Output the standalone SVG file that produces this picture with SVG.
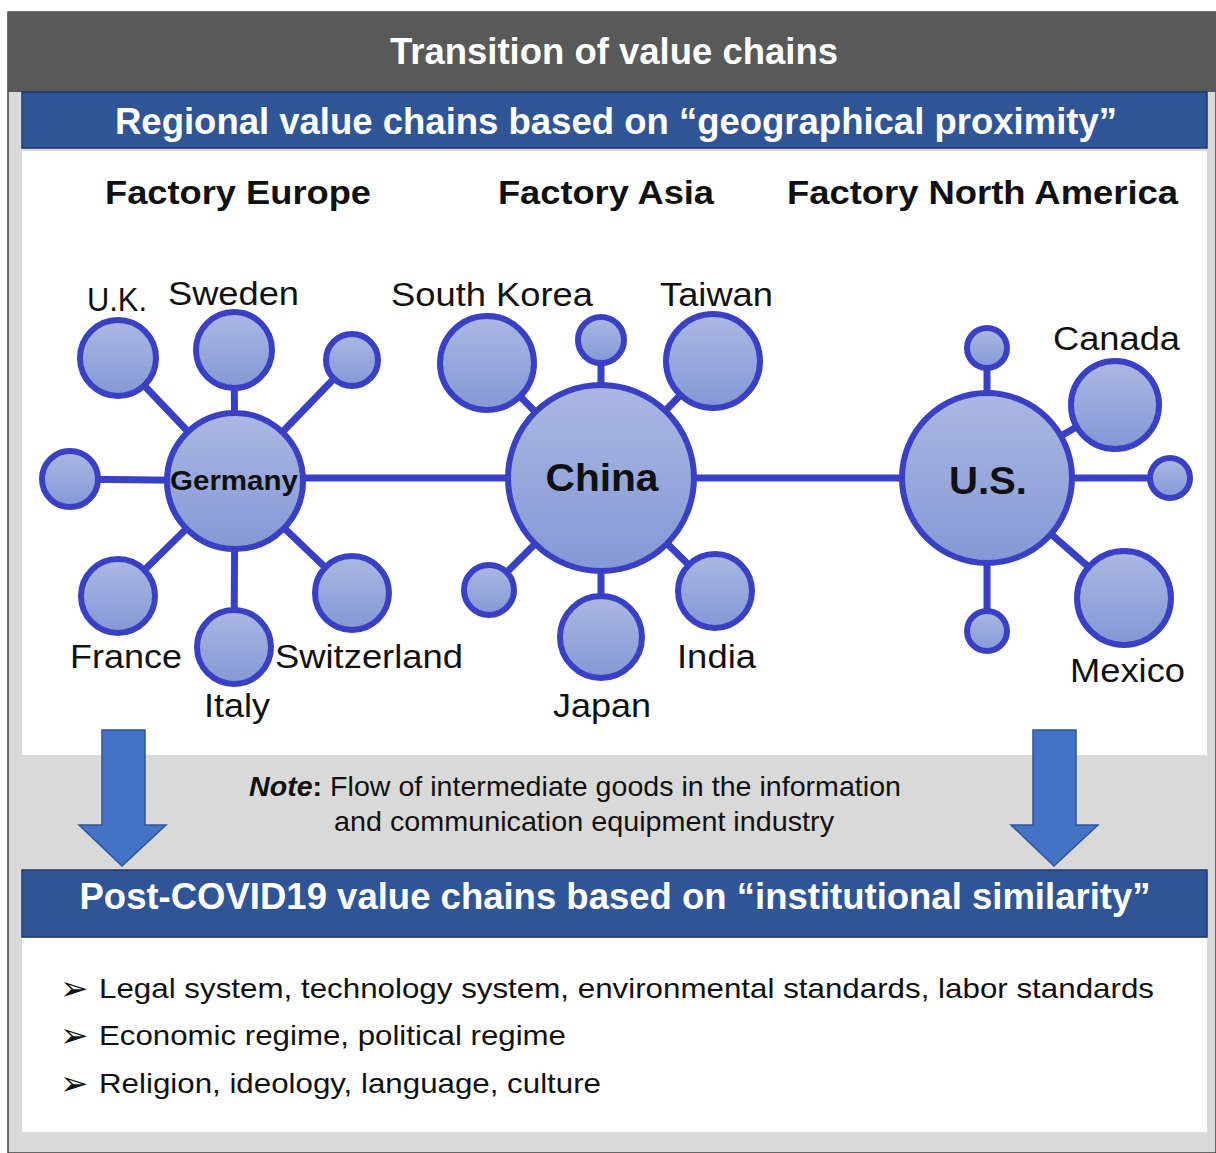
<svg xmlns="http://www.w3.org/2000/svg" width="1216" height="1153" viewBox="0 0 1216 1153">
<defs>
<linearGradient id="nodeFill" x1="0" y1="0" x2="0" y2="1">
<stop offset="0" stop-color="#aab8e2"/>
<stop offset="1" stop-color="#8498d6"/>
</linearGradient>
<style>
.node{fill:url(#nodeFill);stroke:#3a40c4;stroke-width:6}
.link{stroke:#3a40c4;stroke-width:7;fill:none}
.lbl{font-family:"Liberation Sans",Arial,sans-serif;font-size:34px;fill:#111}
.hub{font-family:"Liberation Sans",Arial,sans-serif;font-weight:bold;fill:#111;text-anchor:middle}
.bar{font-family:"Liberation Sans",Arial,sans-serif;font-weight:bold;fill:#fff;font-size:36px;text-anchor:middle}
.fac{font-family:"Liberation Sans",Arial,sans-serif;font-weight:bold;fill:#111;font-size:34px}
.body{font-family:"Liberation Sans",Arial,sans-serif;fill:#111;font-size:28px}
.bul{font-family:"DejaVu Sans",sans-serif;fill:#111;font-size:34px}
.arrow{fill:#4472c4;stroke:#2f5597;stroke-width:1.5}
</style>
</defs>
<rect x="0" y="0" width="1216" height="1153" fill="#ffffff"/>
<rect x="8" y="12" width="1208" height="1141" fill="#d9d9d9" stroke="#404040" stroke-width="1.5"/>
<rect x="8" y="12" width="1208" height="80" fill="#595959"/>
<text x="614" y="64" class="bar" font-size="34" textLength="448" lengthAdjust="spacingAndGlyphs">Transition of value chains</text>
<rect x="22" y="92" width="1185" height="56" fill="#2f5597" stroke="#1f3864" stroke-width="1.5"/>
<text x="616" y="134" class="bar" textLength="1002" lengthAdjust="spacingAndGlyphs">Regional value chains based on “geographical proximity”</text>
<rect x="22" y="151" width="1185" height="604" fill="#ffffff"/>
<text x="105" y="204" class="fac" textLength="266" lengthAdjust="spacingAndGlyphs">Factory Europe</text>
<text x="498" y="204" class="fac" textLength="216" lengthAdjust="spacingAndGlyphs">Factory Asia</text>
<text x="787" y="204" class="fac" textLength="391" lengthAdjust="spacingAndGlyphs">Factory North America</text>
<g id="connectors">
<line class="link" x1="235" y1="478" x2="987" y2="478"/>
<line class="link" x1="235" y1="481" x2="118" y2="358"/>
<line class="link" x1="235" y1="481" x2="234" y2="350"/>
<line class="link" x1="235" y1="481" x2="352" y2="360"/>
<line class="link" x1="235" y1="481" x2="70" y2="479"/>
<line class="link" x1="235" y1="481" x2="118" y2="596"/>
<line class="link" x1="235" y1="481" x2="234" y2="647"/>
<line class="link" x1="235" y1="481" x2="352" y2="593"/>
<line class="link" x1="601" y1="478" x2="487" y2="363"/>
<line class="link" x1="601" y1="478" x2="601" y2="340"/>
<line class="link" x1="601" y1="478" x2="713" y2="361"/>
<line class="link" x1="601" y1="478" x2="489" y2="590"/>
<line class="link" x1="601" y1="478" x2="601" y2="637"/>
<line class="link" x1="601" y1="478" x2="715" y2="591"/>
<line class="link" x1="987" y1="478" x2="987" y2="348"/>
<line class="link" x1="987" y1="478" x2="1115" y2="405"/>
<line class="link" x1="987" y1="478" x2="1170" y2="478"/>
<line class="link" x1="987" y1="478" x2="1124" y2="598"/>
<line class="link" x1="987" y1="478" x2="987" y2="631"/>
</g>
<g id="uk"><circle class="node" cx="118" cy="358" r="38"/><text x="87" y="311" class="lbl" font-size="27" textLength="60" lengthAdjust="spacingAndGlyphs">U.K.</text></g>
<g id="sweden"><circle class="node" cx="234" cy="350" r="38"/><text x="168" y="305" class="lbl" textLength="131" lengthAdjust="spacingAndGlyphs">Sweden</text></g>
<g id="europe-ne"><circle class="node" cx="352" cy="360" r="26"/></g>
<g id="europe-w"><circle class="node" cx="70" cy="479" r="28"/></g>
<g id="france"><circle class="node" cx="118" cy="596" r="37"/><text x="70" y="668" class="lbl" textLength="112" lengthAdjust="spacingAndGlyphs">France</text></g>
<g id="switzerland"><circle class="node" cx="352" cy="593" r="37"/><text x="275" y="668" class="lbl" textLength="188" lengthAdjust="spacingAndGlyphs">Switzerland</text></g>
<g id="italy"><circle class="node" cx="234" cy="647" r="37"/><text x="204" y="717" class="lbl" textLength="66" lengthAdjust="spacingAndGlyphs">Italy</text></g>
<g id="germany"><circle class="node" cx="235" cy="481" r="68" stroke-width="7"/><text x="234" y="490" class="hub" font-size="27" textLength="128" lengthAdjust="spacingAndGlyphs">Germany</text></g>
<g id="south-korea"><circle class="node" cx="487" cy="363" r="47"/><text x="391" y="306" class="lbl" textLength="202" lengthAdjust="spacingAndGlyphs">South Korea</text></g>
<g id="asia-n"><circle class="node" cx="601" cy="340" r="23"/></g>
<g id="taiwan"><circle class="node" cx="713" cy="361" r="47"/><text x="660" y="306" class="lbl" textLength="113" lengthAdjust="spacingAndGlyphs">Taiwan</text></g>
<g id="asia-sw"><circle class="node" cx="489" cy="590" r="25"/></g>
<g id="japan"><circle class="node" cx="601" cy="637" r="41"/><text x="553" y="717" class="lbl" textLength="98" lengthAdjust="spacingAndGlyphs">Japan</text></g>
<g id="india"><circle class="node" cx="715" cy="591" r="37"/><text x="677" y="668" class="lbl" textLength="79" lengthAdjust="spacingAndGlyphs">India</text></g>
<g id="china"><circle class="node" cx="601" cy="478" r="93"/><text x="602" y="491" class="hub" font-size="38" textLength="113" lengthAdjust="spacingAndGlyphs">China</text></g>
<g id="na-n"><circle class="node" cx="987" cy="348" r="20"/></g>
<g id="canada"><circle class="node" cx="1115" cy="405" r="44"/><text x="1053" y="350" class="lbl" textLength="127" lengthAdjust="spacingAndGlyphs">Canada</text></g>
<g id="na-e"><circle class="node" cx="1170" cy="478" r="20"/></g>
<g id="mexico"><circle class="node" cx="1124" cy="598" r="47"/><text x="1070" y="682" class="lbl" textLength="115" lengthAdjust="spacingAndGlyphs">Mexico</text></g>
<g id="na-s"><circle class="node" cx="987" cy="631" r="20"/></g>
<g id="us"><circle class="node" cx="987" cy="478" r="85"/><text x="988" y="494" class="hub" font-size="38" textLength="78" lengthAdjust="spacingAndGlyphs">U.S.</text></g>
<g id="arrows">
<path class="arrow" d="M102,730 H145 V825 H166 L122,866 L79,825 H102 Z"/>
<path class="arrow" d="M1033,730 H1076 V825 H1098 L1054,866 L1011,825 H1033 Z"/>
</g>
<text x="249" y="796" class="body" font-size="26" textLength="652" lengthAdjust="spacingAndGlyphs"><tspan font-weight="bold" font-style="italic">Note</tspan><tspan font-weight="bold">:</tspan> Flow of intermediate goods in the information</text>
<text x="584" y="831" class="body" font-size="26" text-anchor="middle" textLength="500" lengthAdjust="spacingAndGlyphs">and communication equipment industry</text>
<rect x="22" y="870" width="1185" height="67" fill="#2f5597" stroke="#1f3864" stroke-width="1.5"/>
<text x="615" y="909" class="bar" textLength="1071" lengthAdjust="spacingAndGlyphs">Post-COVID19 value chains based on “institutional similarity”</text>
<rect x="22" y="938" width="1185" height="194" fill="#ffffff"/>
<g>
<text x="60" y="1000" class="bul">➢</text>
<text x="99" y="998" class="body" textLength="1055" lengthAdjust="spacingAndGlyphs">Legal system, technology system, environmental standards, labor standards</text>
<text x="60" y="1047" class="bul">➢</text>
<text x="99" y="1045" class="body" textLength="467" lengthAdjust="spacingAndGlyphs">Economic regime, political regime</text>
<text x="60" y="1095" class="bul">➢</text>
<text x="99" y="1093" class="body" textLength="502" lengthAdjust="spacingAndGlyphs">Religion, ideology, language, culture</text>
</g>
</svg>
